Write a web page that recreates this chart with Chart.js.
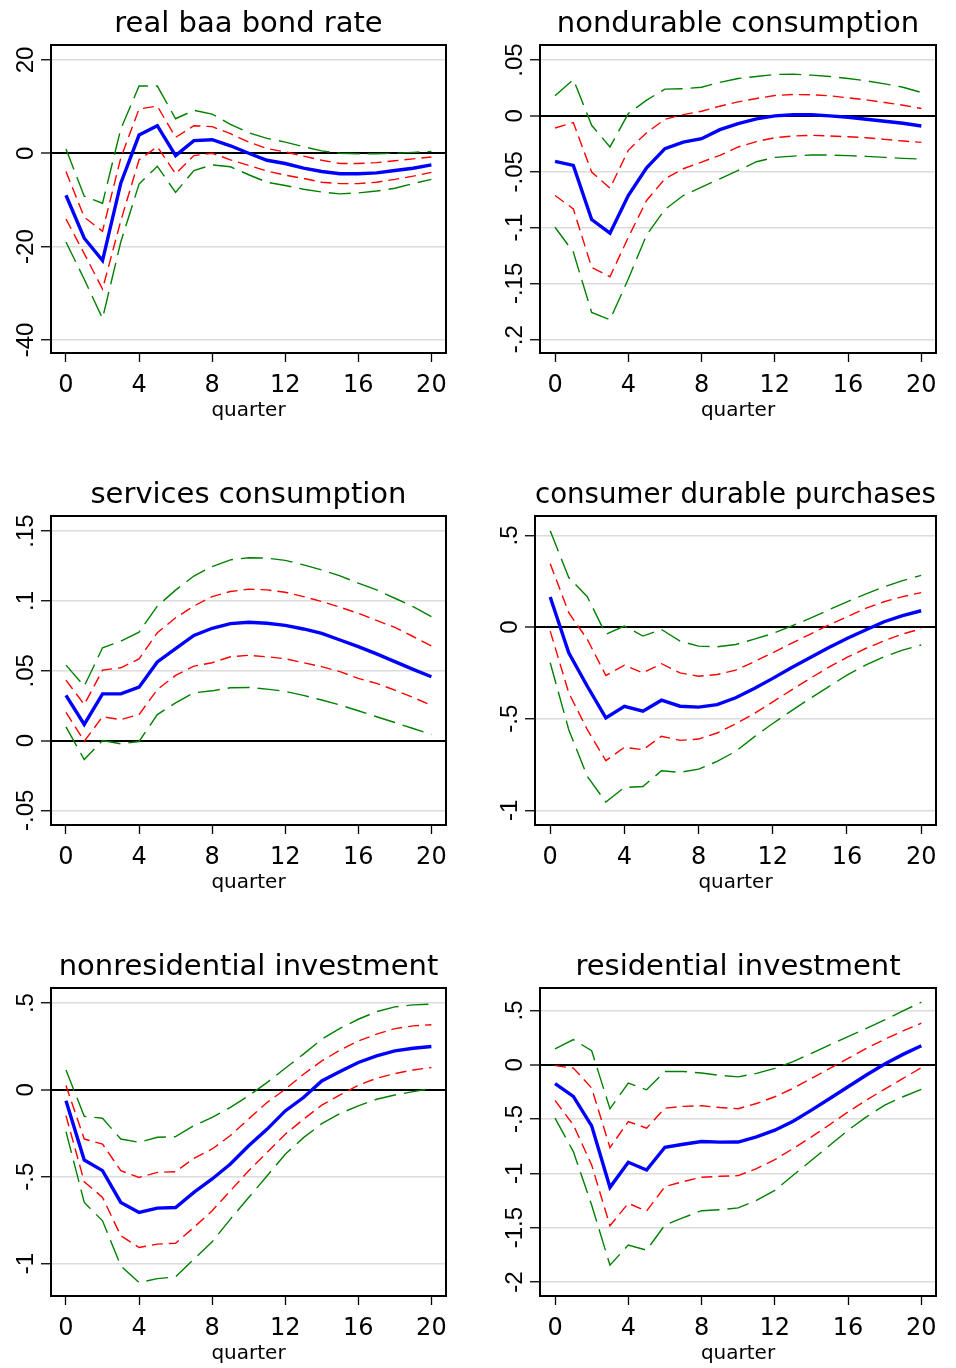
<!DOCTYPE html>
<html lang="en">
<head>
    <meta charset="UTF-8">
    <title>Impulse responses</title>
    <style>
        body { margin: 0; background: #fff; width: 956px; height: 1368px; position: relative; overflow: hidden; }
        canvas { position: absolute; }
    </style>
</head>
<body>
    <canvas id="c1" width="478" height="470" style="left:0;top:0"></canvas>
    <canvas id="c2" width="478" height="470" style="left:478px;top:0"></canvas>
    <canvas id="c3" width="478" height="470" style="left:0;top:470px"></canvas>
    <canvas id="c4" width="478" height="470" style="left:478px;top:470px"></canvas>
    <canvas id="c5" width="478" height="428" style="left:0;top:940px"></canvas>
    <canvas id="c6" width="478" height="428" style="left:478px;top:940px"></canvas>

    <script src="https://cdn.jsdelivr.net/npm/chart.js"></script>
    <script>
        const quarters = [0,1,2,3,4,5,6,7,8,9,10,11,12,13,14,15,16,17,18,19,20];
        const xTicks = [0, 4, 8, 12, 16, 20];

        // real baa bond rate
        const baaPoint   = [-9.0,-18.2,-23.0,-6.4,3.9,5.9,-0.5,2.7,2.9,1.6,0.0,-1.5,-2.2,-3.2,-3.9,-4.4,-4.4,-4.2,-3.7,-3.2,-2.5];
        const baaInnerHi = [-3.9,-13.7,-16.7,-1.0,9.5,10.1,3.4,5.9,5.7,4.2,2.4,1.0,0.3,-0.6,-1.5,-2.2,-2.2,-2.0,-1.6,-1.2,-0.8];
        const baaInnerLo = [-14.1,-21.5,-29.1,-14.5,-1.4,1.4,-4.4,-0.5,0.0,-1.4,-2.6,-3.8,-4.7,-5.4,-6.2,-6.5,-6.5,-6.2,-5.6,-4.9,-4.1];
        const baaOuterHi = [0.9,-9.2,-10.7,5.2,14.4,14.4,7.4,9.2,8.4,6.2,4.4,3.2,2.4,1.4,0.5,0.0,-0.1,-0.1,0.0,0.2,0.4];
        const baaOuterLo = [-19.0,-27.0,-35.4,-19.0,-6.6,-2.8,-8.4,-3.7,-2.5,-2.9,-4.6,-6.2,-6.9,-7.7,-8.3,-8.7,-8.5,-8.1,-7.5,-6.5,-5.6];
        const baaTicks = [-40, -20, 0, 20];
        const baaTickLabels = ['-40', '-20', '0', '20'];

        // nondurable consumption
        const ndPoint   = [-0.0407,-0.0443,-0.0928,-0.105,-0.0713,-0.0464,-0.0293,-0.0234,-0.0204,-0.0123,-0.0069,-0.0027,0.0,0.001,0.001,0.0,-0.0012,-0.003,-0.0048,-0.0066,-0.009];
        const ndInnerHi = [-0.0108,-0.006,-0.0503,-0.0647,-0.0308,-0.015,-0.003,0.0012,0.0042,0.0087,0.0126,0.0156,0.0183,0.0192,0.0189,0.018,0.0162,0.0144,0.012,0.0096,0.0066];
        const ndInnerLo = [-0.0713,-0.0832,-0.1356,-0.144,-0.1087,-0.0757,-0.0563,-0.0473,-0.0413,-0.0353,-0.0278,-0.023,-0.0195,-0.018,-0.0174,-0.018,-0.0186,-0.0195,-0.021,-0.0225,-0.0237];
        const ndOuterHi = [0.018,0.0326,-0.0084,-0.0278,0.0021,0.0141,0.024,0.0243,0.0257,0.03,0.0335,0.0353,0.0371,0.0374,0.0365,0.0353,0.0335,0.0314,0.0287,0.0257,0.021];
        const ndOuterLo = [-0.0997,-0.122,-0.176,-0.1826,-0.146,-0.1066,-0.0838,-0.0713,-0.0638,-0.0563,-0.0488,-0.041,-0.0371,-0.036,-0.035,-0.035,-0.0356,-0.0362,-0.0371,-0.038,-0.0386];
        const ndTicks = [-0.2, -0.15, -0.1, -0.05, 0, 0.05];
        const ndTickLabels = ['-.2', '-.15', '-.1', '-.05', '0', '.05'];

        // services consumption
        const svPoint   = [0.0323,0.0115,0.0334,0.0334,0.0382,0.0563,0.0659,0.0753,0.0804,0.0837,0.0847,0.084,0.0825,0.0799,0.0768,0.072,0.0672,0.062,0.0565,0.051,0.0457];
        const svInnerHi = [0.0432,0.0258,0.0504,0.0521,0.0585,0.0772,0.0879,0.0963,0.1031,0.1067,0.1084,0.1079,0.1062,0.1031,0.0995,0.0955,0.0911,0.086,0.081,0.0745,0.0677];
        const svInnerLo = [0.0202,-0.0005,0.017,0.015,0.0186,0.0365,0.0466,0.0533,0.0557,0.06,0.061,0.06,0.0586,0.0557,0.0529,0.0493,0.0445,0.0409,0.0361,0.0309,0.0251];
        const svOuterHi = [0.054,0.0389,0.0664,0.0712,0.0776,0.0963,0.1077,0.1178,0.1246,0.1294,0.1309,0.1306,0.129,0.1258,0.1222,0.1179,0.1127,0.1079,0.1019,0.0959,0.0888];
        const svOuterLo = [0.0098,-0.0136,0.0,-0.0024,-0.0007,0.0186,0.027,0.0342,0.0356,0.0378,0.038,0.0368,0.0352,0.0323,0.029,0.0254,0.0213,0.017,0.0129,0.0086,0.0043];
        const svTicks = [-0.05, 0, 0.05, 0.1, 0.15];
        const svTickLabels = ['-.05', '0', '.05', '.1', '.15'];

        // consumer durable purchases
        const cdPoint   = [0.164,-0.14,-0.323,-0.496,-0.432,-0.459,-0.399,-0.432,-0.437,-0.423,-0.386,-0.335,-0.28,-0.222,-0.168,-0.113,-0.062,-0.016,0.029,0.062,0.089];
        const cdInnerHi = [0.346,0.078,-0.067,-0.264,-0.208,-0.25,-0.2,-0.25,-0.268,-0.259,-0.235,-0.189,-0.14,-0.089,-0.04,0.011,0.056,0.102,0.138,0.166,0.188];
        const cdInnerLo = [-0.022,-0.359,-0.56,-0.729,-0.656,-0.669,-0.596,-0.618,-0.611,-0.578,-0.528,-0.472,-0.408,-0.344,-0.281,-0.22,-0.166,-0.117,-0.075,-0.038,-0.009];
        const cdOuterHi = [0.525,0.27,0.166,-0.04,0.005,-0.049,-0.013,-0.077,-0.104,-0.108,-0.095,-0.066,-0.035,0.005,0.047,0.093,0.138,0.18,0.22,0.253,0.282];
        const cdOuterLo = [-0.195,-0.56,-0.815,-0.955,-0.875,-0.87,-0.784,-0.793,-0.775,-0.733,-0.678,-0.599,-0.526,-0.457,-0.39,-0.326,-0.262,-0.208,-0.162,-0.126,-0.098];
        const cdTicks = [-1, -0.5, 0, 0.5];
        const cdTickLabels = ['-1', '-.5', '0', '.5'];

        // nonresidential investment
        const nrPoint   = [-0.062,-0.404,-0.465,-0.648,-0.706,-0.681,-0.677,-0.59,-0.513,-0.427,-0.322,-0.227,-0.121,-0.044,0.052,0.106,0.158,0.196,0.225,0.24,0.25];
        const nrInnerHi = [0.025,-0.283,-0.312,-0.465,-0.504,-0.475,-0.471,-0.394,-0.34,-0.263,-0.167,-0.073,0.004,0.09,0.167,0.229,0.282,0.321,0.353,0.369,0.375];
        const nrInnerLo = [-0.148,-0.529,-0.619,-0.84,-0.908,-0.888,-0.883,-0.792,-0.696,-0.581,-0.466,-0.361,-0.255,-0.169,-0.088,-0.029,0.027,0.067,0.094,0.115,0.129];
        const nrOuterHi = [0.115,-0.152,-0.163,-0.283,-0.302,-0.273,-0.269,-0.206,-0.158,-0.1,-0.034,0.042,0.125,0.206,0.292,0.355,0.407,0.451,0.478,0.49,0.494];
        const nrOuterLo = [-0.24,-0.648,-0.754,-1.013,-1.11,-1.087,-1.077,-0.975,-0.875,-0.744,-0.62,-0.496,-0.371,-0.275,-0.194,-0.136,-0.092,-0.054,-0.029,-0.01,0.008];
        const nrTicks = [-1, -0.5, 0, 0.5];
        const nrTickLabels = ['-1', '-.5', '0', '.5'];

        // residential investment
        const rsPoint   = [-0.175,-0.292,-0.563,-1.129,-0.898,-0.969,-0.76,-0.732,-0.707,-0.713,-0.712,-0.665,-0.603,-0.52,-0.418,-0.311,-0.203,-0.095,0.006,0.095,0.175];
        const rsInnerHi = [-0.009,-0.031,-0.215,-0.763,-0.523,-0.584,-0.4,-0.384,-0.378,-0.394,-0.405,-0.357,-0.295,-0.218,-0.126,-0.034,0.058,0.151,0.234,0.311,0.382];
        const rsInnerLo = [-0.329,-0.554,-0.923,-1.482,-1.276,-1.347,-1.122,-1.076,-1.036,-1.027,-1.021,-0.957,-0.874,-0.772,-0.665,-0.551,-0.434,-0.326,-0.225,-0.126,-0.028];
        const rsOuterHi = [0.145,0.231,0.129,-0.406,-0.169,-0.231,-0.062,-0.062,-0.077,-0.098,-0.112,-0.08,-0.034,0.028,0.105,0.182,0.258,0.335,0.412,0.495,0.575];
        const rsOuterLo = [-0.492,-0.8,-1.292,-1.845,-1.66,-1.707,-1.476,-1.408,-1.344,-1.335,-1.318,-1.249,-1.157,-1.018,-0.88,-0.742,-0.603,-0.48,-0.372,-0.295,-0.228];
        const rsTicks = [-2, -1.5, -1, -0.5, 0, 0.5];
        const rsTickLabels = ['-2', '-1.5', '-1', '-.5', '0', '.5'];

        Chart.defaults.font.family = '"DejaVu Sans", sans-serif';
        Chart.defaults.color = '#000';

        // rotated y tick labels, read bottom to top like Stata
        const yLabelPlugin = {
            id: 'yLabels',
            afterDraw(chart) {
                const y = chart.scales.y, ctx = chart.ctx;
                ctx.save();
                ctx.font = '24px "Liberation Sans", Arial, sans-serif';
                ctx.fillStyle = '#000';
                ctx.textAlign = 'center';
                ctx.textBaseline = 'alphabetic';
                y.ticks.forEach(t => {
                    ctx.save();
                    ctx.translate(chart.chartArea.left - 18, y.getPixelForValue(t.value));
                    ctx.rotate(-Math.PI / 2);
                    ctx.fillText(t.label, 0, 0);
                    ctx.restore();
                });
                ctx.restore();
            }
        };

        const framePlugin = {
            id: 'frame',
            afterDraw(chart) {
                const {ctx, chartArea: a} = chart;
                ctx.save();
                ctx.strokeStyle = '#000';
                ctx.lineWidth = 2;
                ctx.strokeRect(a.left, a.top, a.right - a.left, a.bottom - a.top);
                ctx.restore();
            }
        };

        function toXY(arr) {
            return arr.map((v, i) => ({x: quarters[i], y: v}));
        }

        function makePanel(id, title, point, innerHi, innerLo, outerHi, outerLo, yMin, yMax, yTicks, yLabels, box) {
            const canvas = document.getElementById(id);
            const W = canvas.width, H = canvas.height;
            const xAxisH = 70;
            new Chart(canvas, {
                type: 'line',
                data: {
                    datasets: [
                        {data: toXY(point), borderColor: '#0000ff', borderWidth: 3.4},
                        {data: toXY(innerHi), borderColor: '#ff0000', borderWidth: 1.4, borderDash: [11, 6]},
                        {data: toXY(innerLo), borderColor: '#ff0000', borderWidth: 1.4, borderDash: [11, 6]},
                        {data: toXY(outerHi), borderColor: '#008000', borderWidth: 1.4, borderDash: [22, 8]},
                        {data: toXY(outerLo), borderColor: '#008000', borderWidth: 1.4, borderDash: [22, 8]}
                    ]
                },
                options: {
                    responsive: false,
                    animation: false,
                    layout: { padding: { left: 0, top: 0, right: W - box.R, bottom: H - box.B - xAxisH } },
                    elements: { point: { radius: 0 }, line: { tension: 0, fill: false } },
                    plugins: {
                        legend: { display: false },
                        tooltip: { enabled: false },
                        title: {
                            display: true,
                            text: title,
                            fullSize: false,
                            color: '#000',
                            font: { size: 29, weight: 'normal' },
                            padding: { top: box.T - 37.6, bottom: 2.8 }
                        }
                    },
                    scales: {
                        x: {
                            type: 'linear',
                            min: -0.82,
                            max: 20.8,
                            afterBuildTicks: s => { s.ticks = xTicks.map(v => ({value: v})); },
                            afterFit: s => { s.height = xAxisH; },
                            border: { display: false },
                            grid: { drawOnChartArea: false, drawTicks: true, tickLength: 9, tickColor: '#000', tickWidth: 1.3 },
                            ticks: { font: { size: 24 }, color: '#000', padding: 9.5, maxRotation: 0, minRotation: 0 },
                            title: { display: true, text: 'quarter', font: { size: 20 }, color: '#000', padding: { top: 0, bottom: 0.5 } }
                        },
                        y: {
                            min: yMin,
                            max: yMax,
                            afterBuildTicks: s => { s.ticks = yTicks.map(v => ({value: v})); },
                            afterFit: s => { s.width = box.L; },
                            border: { display: false },
                            grid: {
                                color: c => (c.tick && c.tick.value === 0) ? '#000' : '#dcdcdc',
                                lineWidth: c => (c.tick && c.tick.value === 0) ? 2 : 1.5,
                                drawTicks: true,
                                tickLength: 10,
                                tickColor: '#000',
                                tickWidth: 1.3
                            },
                            ticks: { display: false, callback: (v, i) => yLabels[i] }
                        }
                    }
                },
                plugins: [yLabelPlugin, framePlugin]
            });
        }

        makePanel('c1', 'real baa bond rate', baaPoint, baaInnerHi, baaInnerLo, baaOuterHi, baaOuterLo,
            -42.8, 23.2, baaTicks, baaTickLabels, {L: 51, T: 45, R: 446, B: 353});
        makePanel('c2', 'nondurable consumption', ndPoint, ndInnerHi, ndInnerLo, ndOuterHi, ndOuterLo,
            -0.2123, 0.0635, ndTicks, ndTickLabels, {L: 62, T: 45, R: 458, B: 353});
        makePanel('c3', 'services consumption', svPoint, svInnerHi, svInnerLo, svOuterHi, svOuterLo,
            -0.0605, 0.1608, svTicks, svTickLabels, {L: 51, T: 46, R: 446, B: 355});
        makePanel('c4', 'consumer durable purchases', cdPoint, cdInnerHi, cdInnerLo, cdOuterHi, cdOuterLo,
            -1.08, 0.606, cdTicks, cdTickLabels, {L: 57, T: 46, R: 458, B: 355});
        makePanel('c5', 'nonresidential investment', nrPoint, nrInnerHi, nrInnerLo, nrOuterHi, nrOuterLo,
            -1.187, 0.587, nrTicks, nrTickLabels, {L: 51, T: 48, R: 446, B: 356});
        makePanel('c6', 'residential investment', rsPoint, rsInnerHi, rsInnerLo, rsOuterHi, rsOuterLo,
            -2.129, 0.706, rsTicks, rsTickLabels, {L: 62, T: 48, R: 458, B: 356});
    </script>
</body>
</html>
